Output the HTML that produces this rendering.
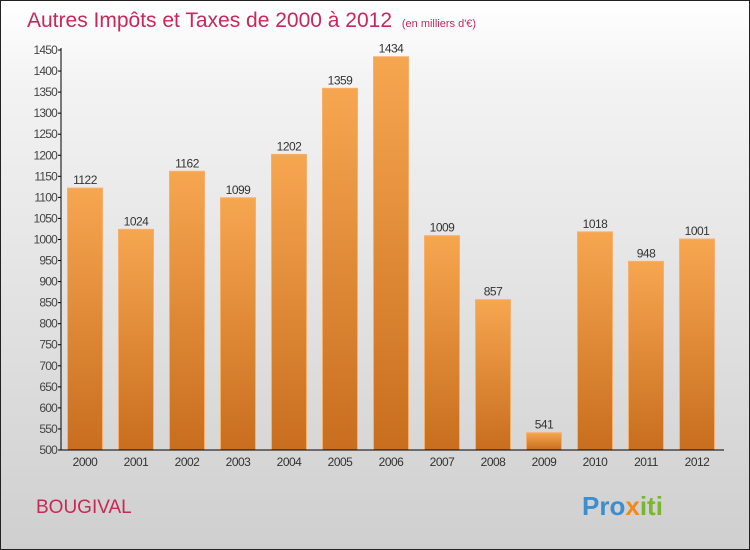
<!DOCTYPE html>
<html><head><meta charset="utf-8"><style>
body{margin:0;width:750px;height:550px;overflow:hidden;font-family:"Liberation Sans",sans-serif}
#frame{position:absolute;left:0;top:0;width:748px;height:548px;border:1px solid #222;background:linear-gradient(#fff,#f3f3f3 15%,#cfcfcf)}
</style></head><body>
<div id="frame"></div>
<svg id="c" width="750" height="550" style="position:absolute;left:0;top:0">
<defs><linearGradient id="g" x1="0" y1="0" x2="0" y2="1"><stop offset="0" stop-color="#f7a650"/><stop offset="1" stop-color="#c86e1e"/></linearGradient></defs>
<text x="27" y="27" font-size="21" fill="#c8275a">Autres Impôts et Taxes de 2000 à 2012 <tspan font-size="11" dx="4">(en milliers d'€)</tspan></text>
<text x="36" y="513" font-size="19" fill="#c8275a">BOUGIVAL</text>
<text x="582" y="515" font-size="26" font-weight="bold" fill="#3b8fd0">Pro<tspan fill="#f08a1c">x</tspan><tspan fill="#7bb630">iti</tspan></text>
</svg>
<script>
const years=["2000","2001","2002","2003","2004","2005","2006","2007","2008","2009","2010","2011","2012"];
const values=[1122,1024,1162,1099,1202,1359,1434,1009,857,541,1018,948,1001];
const yTicks=[500,550,600,650,700,750,800,850,900,950,1000,1050,1100,1150,1200,1250,1300,1350,1400,1450];
const svg=document.getElementById('c');const NS="http://www.w3.org/2000/svg";
const y=v=>450-(v-500)*400/950;const band=51,x0=61;const x=i=>x0+i*band;
function mk(t,a){const e=document.createElementNS(NS,t);for(const k in a)e.setAttribute(k,a[k]);svg.appendChild(e);return e;}
values.forEach((v,i)=>{
const r=mk('rect',{x:x(i)+6.5,y:y(v),width:35,height:450-y(v),fill:'url(#g)',stroke:'#f5b070','stroke-width':1});


const t=mk('text',{x:x(i)+24,y:y(v)-4,'font-size':12,fill:'#333','text-anchor':'middle','letter-spacing':'-0.5'});t.textContent=v;


const l=mk('text',{x:x(i)+24,y:466,'font-size':12,fill:'#333','text-anchor':'middle','letter-spacing':'-0.5'});l.textContent=years[i];


});
yTicks.forEach(v=>{
mk('line',{x1:58,x2:61,y1:y(v),y2:y(v),stroke:'#000'});
const t=mk('text',{x:57,y:y(v)+4,'font-size':12,fill:'#444','text-anchor':'end','letter-spacing':'-0.8'});t.textContent=v;


});
const ya=mk('line',{x1:61,x2:61,y1:48,y2:450,stroke:'#000'});


const xa=mk('line',{x1:61,x2:724,y1:450,y2:450,stroke:'#000'});


</script>
</body></html>
